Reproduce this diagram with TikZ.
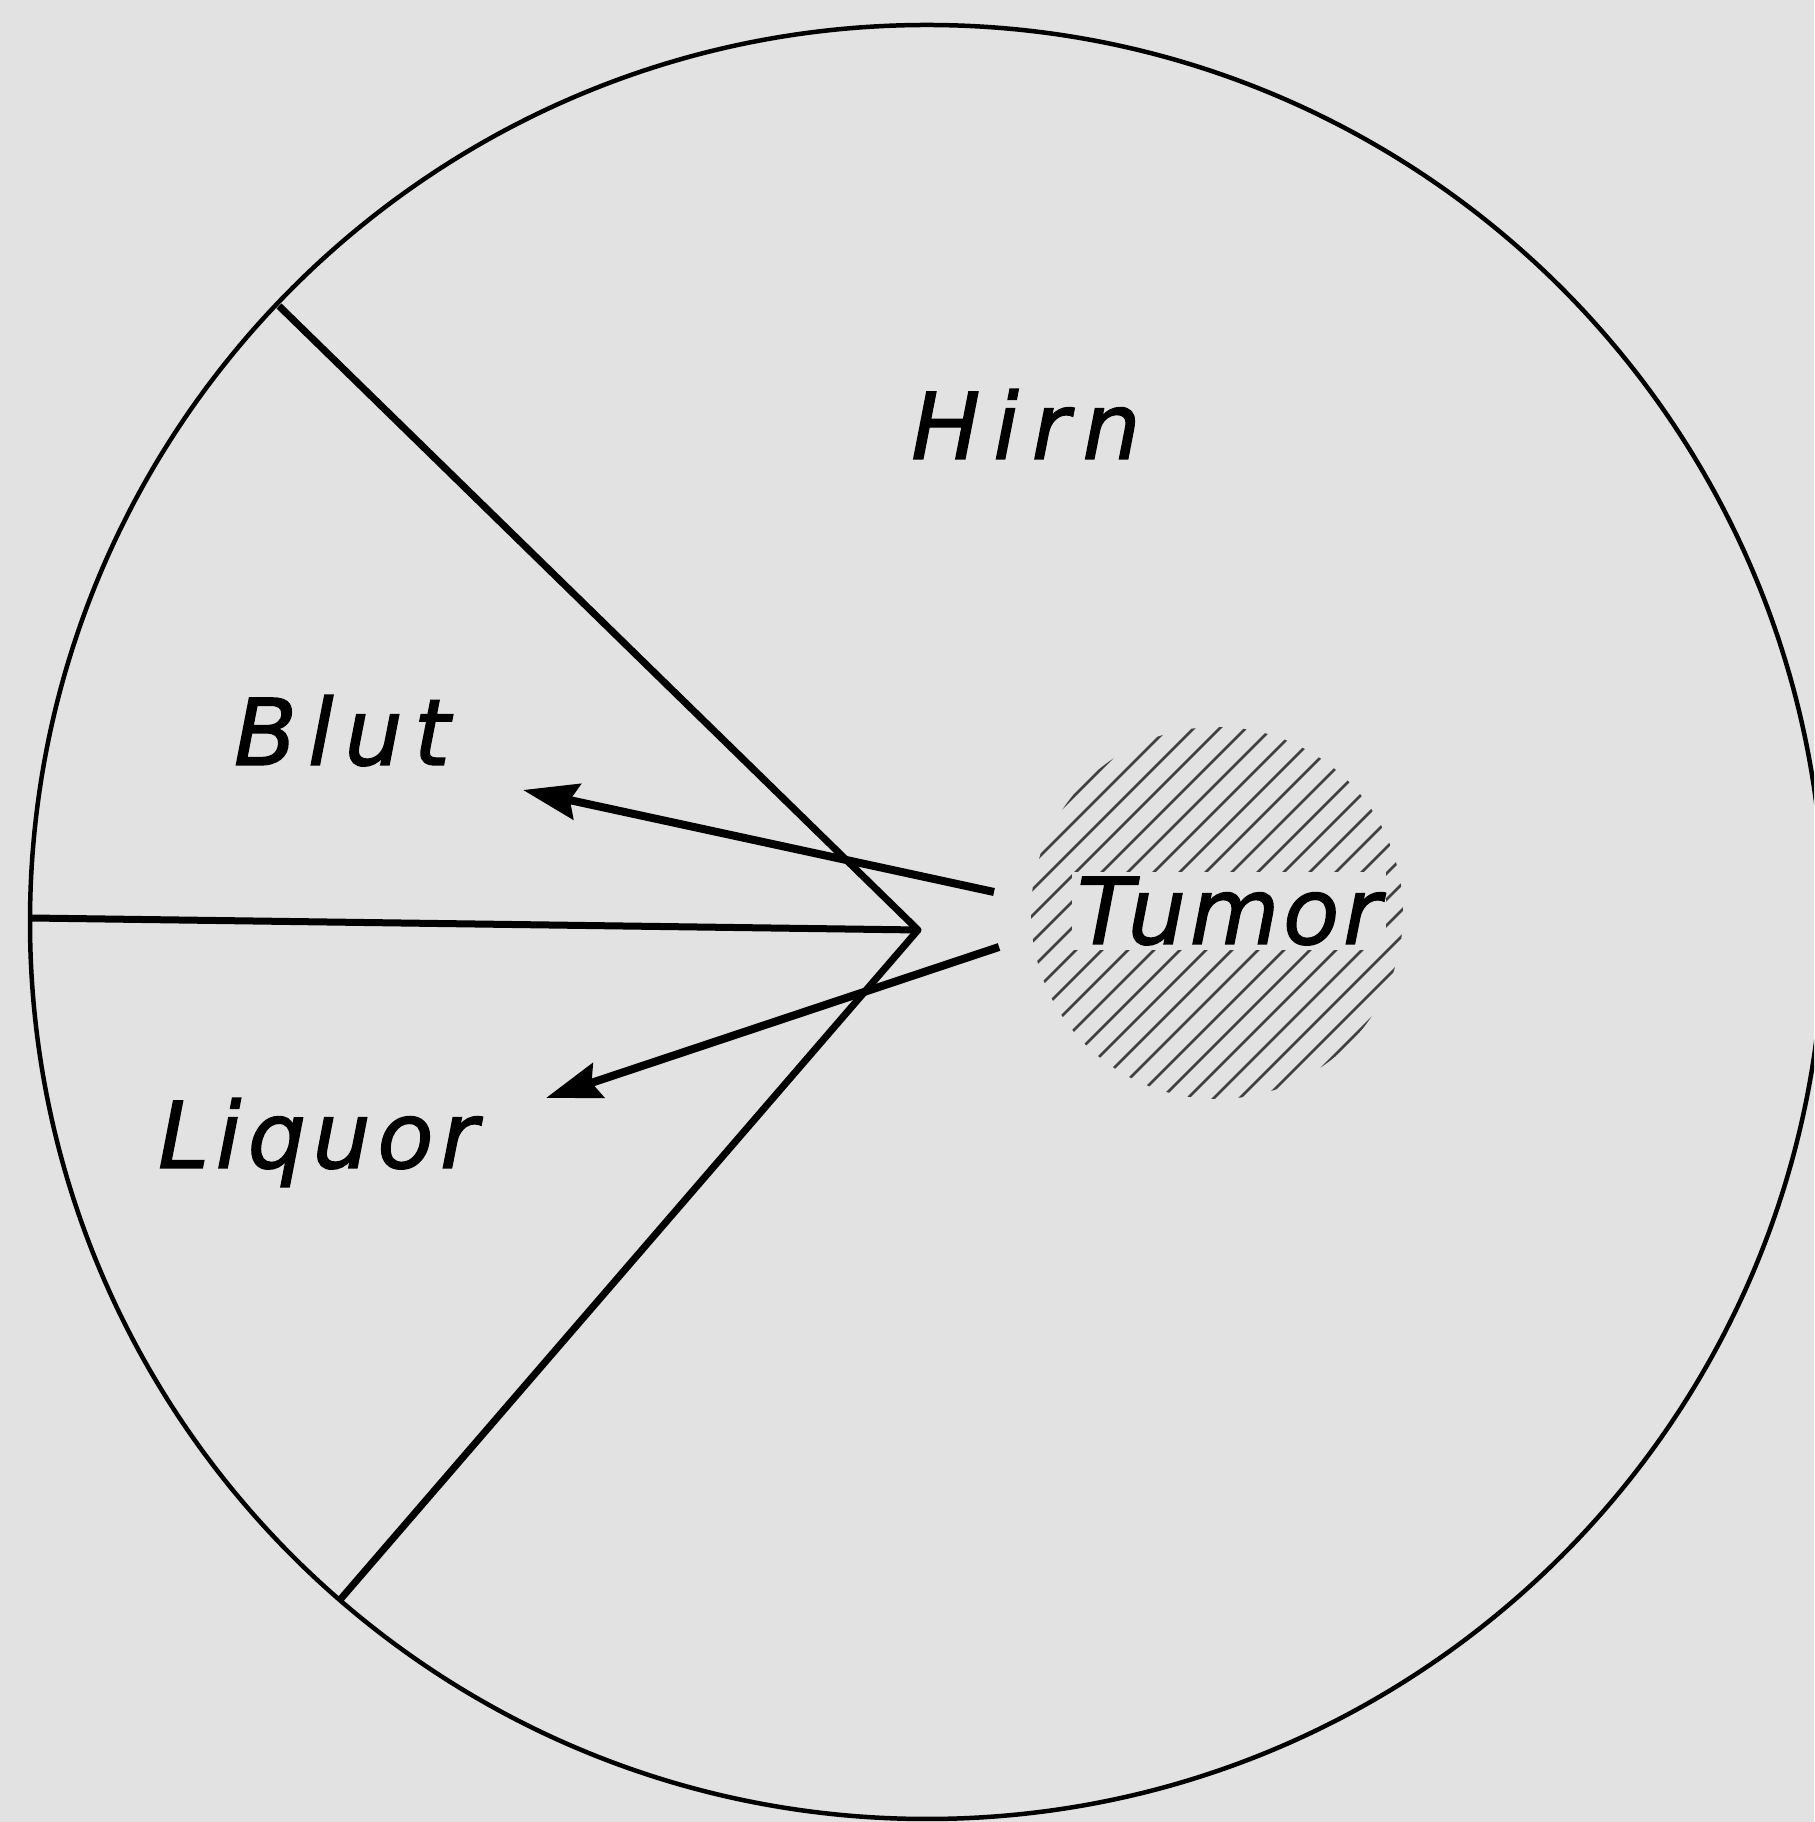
\documentclass[tikz,border=0pt]{standalone}
\usepackage{fontspec}
\setmainfont{DejaVu Sans}
\newfontfamily\lblfont[FakeBold=1.5]{DejaVu Sans}
\usetikzlibrary{arrows.meta}
\definecolor{bg}{RGB}{226,226,226}
\begin{document}
\begin{tikzpicture}[x=1pt,y=1pt,
  lbl/.style={font=\fontsize{92}{92}\lblfont\itshape, inner sep=0pt, anchor=base},
  rim/.style={line width=4.5pt},
  border/.style={line width=7pt, line join=round},
  flow/.style={line width=8pt, -{Stealth[length=55pt,width=36pt,inset=7pt]}},
  hatch/.style={line width=2.6pt, black!75}]
\useasboundingbox (0,0) rectangle (1814,1822);
\fill[bg] (0,0) rectangle (1814,1822);
\clip (0,0) rectangle (1814,1822);
% brain circle
\coordinate (c) at (927,900);
\draw[rim] (c) circle (897);
% compartment borders
\coordinate (v) at (918,892);
\coordinate (up) at (279,1516);
\coordinate (lo) at (339,221);
\coordinate (le) at (30,904);
\draw[border] (up) -- (v) -- (lo);
\draw[border] (le) -- (v);
% tumor
\begin{scope}
\clip (1217,909) circle (186);
\foreach \k in {-12,...,12}
  \draw[hatch] (1217+\k*26-200,709) -- (1217+\k*26+200,1109);
\end{scope}
\node[lbl, fill=bg, inner sep=5pt] (tumor) at (1229,878) {\addfontfeature{LetterSpace=4}Tumor};
% labels
\node[lbl] (hirn) at (1026,1363) {\addfontfeature{LetterSpace=14}Hirn};
\node[lbl] (blut) at (342,1057) {\addfontfeature{LetterSpace=12}Blut};
\node[lbl] (liq) at (318,654) {\addfontfeature{LetterSpace=7}Liquor};
% arrows
\coordinate (a1s) at (994,930);
\coordinate (a1e) at (523,1032);
\coordinate (a2s) at (999,875);
\coordinate (a2e) at (546,724);
\draw[flow] (a1s) -- (a1e);
\draw[flow] (a2s) -- (a2e);
\end{tikzpicture}
\end{document}
